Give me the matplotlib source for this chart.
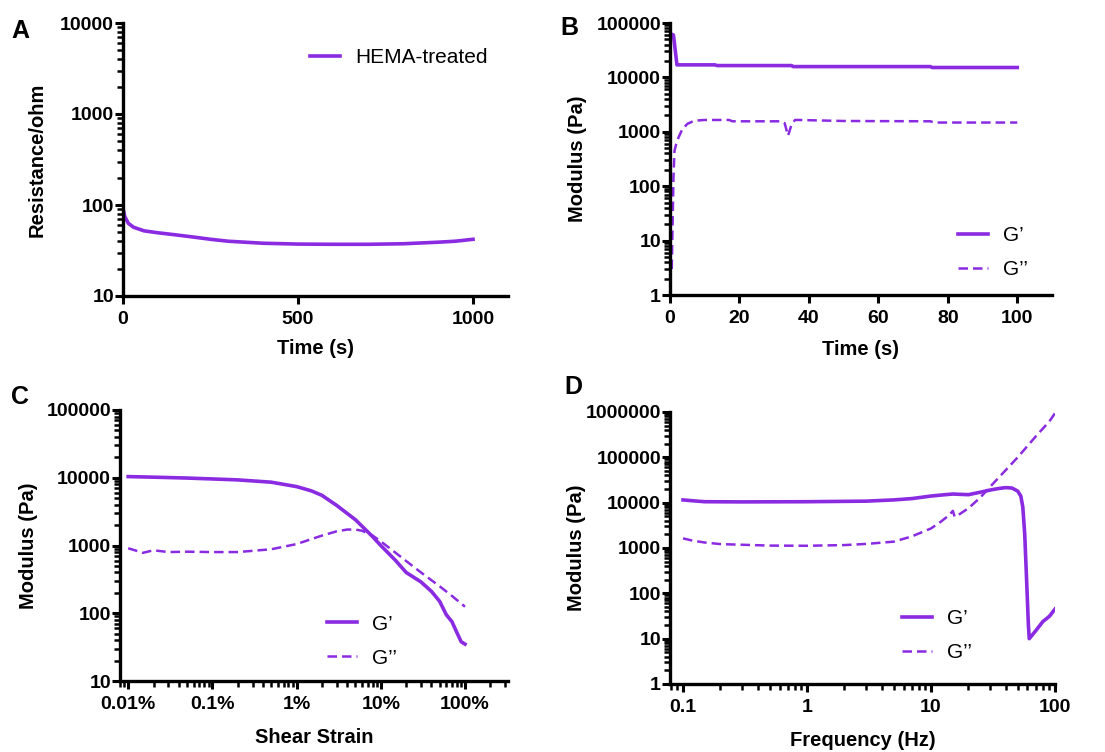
import matplotlib
matplotlib.use("Agg")
import matplotlib.pyplot as plt
from matplotlib.ticker import FixedLocator, FuncFormatter, LogLocator, NullFormatter
import numpy as np

plt.rcParams['font.family'] = ['Liberation Sans', 'DejaVu Sans']

PURPLE = '#8a2be2'

# ---------------- Data ----------------
# Panel A: resistance vs time
a_time = [0, 5, 15, 30, 60, 100, 150, 200, 250, 300, 400, 500, 600, 700, 800, 900, 950, 1000]
a_res = [92, 75, 63, 57, 52, 49.5, 47, 44.5, 42, 40, 38, 37.2, 37, 37, 37.5, 39, 40, 42]

# Panel B: time sweep
b_time_g1 = [0.5, 1.0, 2.0, 13, 13.5, 35, 35.5, 75, 75.5, 100]
b_g1 = [62000, 60000, 17000, 17000, 16500, 16500, 15800, 15800, 15200, 15200]
b_time_g2 = [0.5, 0.8, 1.0, 1.3, 1.8, 2.5, 3.5, 5, 7, 10, 17, 18, 32, 33, 34, 35, 36, 37, 50, 75, 76, 100]
b_g2 = [3, 30, 150, 450, 600, 800, 1100, 1400, 1600, 1650, 1650, 1560, 1560, 1450, 850, 1350, 1650, 1650, 1580, 1560, 1480, 1480]

# Panel C: strain sweep (strain in percent)
c_strain = [0.01, 0.02, 0.05, 0.1, 0.2, 0.5, 1, 1.5, 2, 3, 5, 8, 10, 15, 20, 30, 40, 50, 60, 70, 80, 90, 100]
c_g1 = [10400, 10200, 9900, 9600, 9300, 8600, 7400, 6400, 5500, 3900, 2400, 1350, 1000, 600, 400, 290, 210, 150, 95, 75, 52, 38, 35]
c_strain2 = [0.01, 0.012, 0.015, 0.02, 0.03, 0.05, 0.1, 0.2, 0.5, 1, 2, 3, 4, 5, 6, 8, 10, 15, 20, 30, 50, 70, 100]
c_g2 = [910, 850, 780, 850, 800, 810, 800, 800, 880, 1050, 1400, 1620, 1720, 1720, 1650, 1400, 1150, 780, 590, 400, 250, 180, 125]

# Panel D: frequency sweep
d_freq1 = [0.1, 0.12, 0.15, 0.3, 1, 3, 5, 7, 10, 13, 15, 20, 25, 30, 35, 40, 45, 50, 53, 55, 57, 59, 61, 62, 70, 80, 90, 100]
d_g1 = [11500, 11000, 10500, 10400, 10500, 10800, 11500, 12300, 14000, 15000, 15500, 15000, 17000, 19000, 20500, 21500, 21000, 18000, 14000, 8000, 2000, 200, 20, 10, 15, 24, 31, 45]
d_freq2 = [0.1, 0.12, 0.15, 0.2, 0.5, 1, 2, 3, 5, 7, 10, 12, 14, 15, 15.5, 16, 20, 25, 30, 40, 50, 70, 90, 100]
d_g2 = [1630, 1450, 1320, 1220, 1130, 1120, 1160, 1230, 1380, 1800, 2700, 3800, 5300, 6600, 4900, 5000, 7500, 13000, 22500, 52000, 100000, 290000, 620000, 940000]

# ---------------- Figure ----------------
W, H = 1105, 752
fig = plt.figure(figsize=(W / 100, H / 100), dpi=100)


def ax_px(left, top, right, bottom):
    return fig.add_axes([left / W, 1 - bottom / H, (right - left) / W, (bottom - top) / H])


axA = ax_px(123, 23, 508, 296)
axB = ax_px(670, 23, 1052, 295)
axC = ax_px(120, 410, 508, 681)
axD = ax_px(670, 412, 1055, 684)

TICK_FS = 14
LABEL_FS = 14.5
LEG_FS = 15
DASH = (0, (3.8, 2.0))


def style(ax):
    for s in ['top', 'right']:
        ax.spines[s].set_visible(False)
    for s in ['left', 'bottom']:
        ax.spines[s].set_linewidth(2.4)
        ax.spines[s].set_color('black')
    ax.tick_params(which='major', direction='out', length=6, width=2.2, pad=0.5,
                   labelsize=TICK_FS, colors='black')
    ax.tick_params(axis='x', which='major', pad=5)
    ax.tick_params(which='minor', direction='out', length=4, width=1.8, colors='black')
    for lbl in ax.get_xticklabels() + ax.get_yticklabels():
        lbl.set_fontweight('bold')


def labels(ax, xl, yl, xpos, ypos):
    ax.set_xlabel(xl, fontsize=LABEL_FS, fontweight='bold')
    ax.set_ylabel(yl, fontsize=LABEL_FS, fontweight='bold')
    ax.xaxis.set_label_coords(0.5, xpos)
    ax.yaxis.set_label_coords(ypos, 0.5)
    ax.xaxis.label.set_va('center')
    ax.yaxis.label.set_va('center')


def leg(ax, x, y):
    ax.legend(loc='upper left', bbox_to_anchor=(x, y), frameon=False, fontsize=LEG_FS,
              handlelength=1.45, handletextpad=0.7, labelspacing=0.72,
              borderaxespad=0, borderpad=0)


def logy(ax, lo, hi):
    ax.set_yscale('log')
    ax.set_ylim(lo, hi)
    decs = [10 ** k for k in range(int(np.log10(lo)), int(np.log10(hi)) + 1)]
    ax.yaxis.set_major_locator(FixedLocator(decs))
    ax.yaxis.set_major_formatter(FuncFormatter(lambda v, p: '%d' % int(round(v))))
    ax.yaxis.set_minor_locator(LogLocator(base=10, subs=np.arange(2, 10)))
    ax.yaxis.set_minor_formatter(NullFormatter())


# Panel A
axA.plot(a_time, a_res, color=PURPLE, lw=2.6, label='HEMA-treated')
logy(axA, 10, 10000)
axA.set_xlim(0, 1100)
axA.xaxis.set_major_locator(FixedLocator([0, 500, 1000]))
labels(axA, 'Time (s)', 'Resistance/ohm', -0.194, -0.223)
leg(axA, 0.486, 0.907)
style(axA)

# Panel B
axB.plot(b_time_g1, b_g1, color=PURPLE, lw=2.6, label='G\u2019')
axB.plot(b_time_g2, b_g2, color=PURPLE, lw=1.8, ls=DASH, label='G\u2019\u2019')
logy(axB, 1, 100000)
axB.set_xlim(0, 110)
axB.xaxis.set_major_locator(FixedLocator([0, 20, 40, 60, 80, 100]))
labels(axB, 'Time (s)', 'Modulus (Pa)', -0.199, -0.241)
leg(axB, 0.754, 0.254)
style(axB)

# Panel C
axC.plot(c_strain, c_g1, color=PURPLE, lw=2.6, label='G\u2019')
axC.plot(c_strain2, c_g2, color=PURPLE, lw=1.8, ls=DASH, label='G\u2019\u2019')
logy(axC, 10, 100000)
axC.set_xscale('log')
axC.set_xlim(0.008, 324)
axC.xaxis.set_major_locator(FixedLocator([0.01, 0.1, 1, 10, 100]))
axC.xaxis.set_major_formatter(FuncFormatter(lambda v, p: '%g%%' % v))
axC.xaxis.set_minor_locator(LogLocator(base=10, subs=np.arange(2, 10)))
axC.xaxis.set_minor_formatter(NullFormatter())
labels(axC, 'Shear Strain', 'Modulus (Pa)', -0.207, -0.237)
leg(axC, 0.533, 0.245)
style(axC)

# Panel D
axD.plot(d_freq1, d_g1, color=PURPLE, lw=2.6, label='G\u2019')
axD.plot(d_freq2, d_g2, color=PURPLE, lw=1.8, ls=DASH, label='G\u2019\u2019')
logy(axD, 1, 1000000)
axD.set_xscale('log')
axD.set_xlim(0.0785, 100)
axD.xaxis.set_major_locator(FixedLocator([0.1, 1, 10, 100]))
axD.xaxis.set_major_formatter(FuncFormatter(lambda v, p: '%g' % v))
axD.xaxis.set_minor_locator(LogLocator(base=10, subs=np.arange(2, 10)))
axD.xaxis.set_minor_formatter(NullFormatter())
labels(axD, 'Frequency (Hz)', 'Modulus (Pa)', -0.206, -0.242)
leg(axD, 0.603, 0.276)
style(axD)

# Panel letters
for letter, x, y in [('A', 11, 31), ('B', 560, 28), ('C', 11, 397), ('D', 564, 387)]:
    fig.text(x / W, 1 - y / H, letter, fontsize=18, fontweight='bold', va='center', ha='left')

fig.savefig('out.png', dpi=100)
